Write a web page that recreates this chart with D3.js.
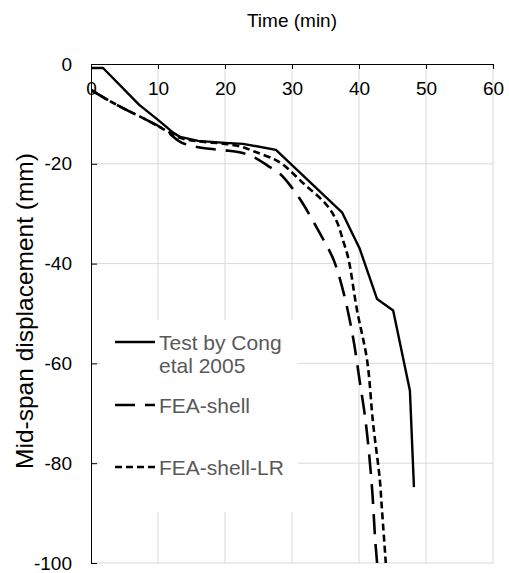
<!DOCTYPE html>
<html>
<head>
<meta charset="utf-8">
<script src="https://cdn.jsdelivr.net/npm/d3@7"></script>
<style>
  html, body { margin: 0; padding: 0; background: #fff; }
  svg { display: block; font-family: "Liberation Sans", Arial, sans-serif; }
</style>
</head>
<body>
<svg id="chart" width="509" height="573"></svg>
<script>
// Mid-span displacement vs fire exposure time
const xTicks = [0, 10, 20, 30, 40, 50, 60];
const yTicks = [0, -20, -40, -60, -80, -100];

// Test by Cong et al 2005
const timeTest = [0, 1.8, 7.2, 10, 12.3, 13.3, 16, 20, 22.7, 27.6, 37.5, 40.1, 42.7, 45.1, 47.6, 48.2];
const dispTest = [-0.8, -0.8, -8.2, -11.2, -13.8, -14.6, -15.4, -15.8, -16.0, -17.2, -29.8, -37.0, -47.1, -49.4, -65.5, -84.8];

// FEA-shell
const timeShell = [0, 2.5, 5, 8, 11, 13.3, 15, 17, 20, 22.5, 24.5, 26.5, 28.2, 30, 31.5, 33.9, 36.1, 37.6, 39.1, 40.1, 40.9, 41.5, 42, 42.4, 42.7];
const dispShell = [-5.2, -7.2, -9.0, -11.0, -13.2, -15.6, -16.4, -16.9, -17.3, -17.8, -18.8, -20.5, -22.0, -24.8, -27.7, -33.3, -38.9, -45.3, -54.7, -63.5, -70.7, -78.0, -86.0, -95.0, -100];

// FEA-shell-LR
const timeLR = [0, 2.5, 5, 8, 11, 13.3, 16, 20, 22.5, 24.5, 27.2, 28.7, 31.6, 35.2, 36.7, 37.6, 38.4, 39.7, 41.2, 42.1, 43.1, 43.4, 44];
const dispLR = [-5.2, -7.2, -9.0, -11.0, -13.2, -14.8, -15.5, -16.0, -16.6, -17.6, -19.0, -20.2, -23.8, -28.3, -31.6, -35.3, -38.9, -49.3, -59.3, -72.0, -83.2, -88.8, -100];

const svg = d3.select("#chart");
const pLeft = 91, pRight = 493, pTop = 64, pBottom = 563;

const x = d3.scaleLinear().domain([0, 60]).range([pLeft, pRight]);
const y = d3.scaleLinear().domain([0, -100]).range([pTop, pBottom]);

const grid = "#d9d9d9";
const plainNumber = d => String(d);

// vertical gridlines
svg.append("g").selectAll("line")
  .data(xTicks.filter(d => d > 0))
  .join("line")
  .attr("x1", d => x(d)).attr("x2", d => x(d))
  .attr("y1", pTop).attr("y2", pBottom)
  .attr("stroke", grid).attr("stroke-width", 1);

// horizontal gridlines
svg.append("g").selectAll("line")
  .data(yTicks.filter(d => d < 0))
  .join("line")
  .attr("x1", pLeft).attr("x2", pRight)
  .attr("y1", d => y(d)).attr("y2", d => y(d))
  .attr("stroke", grid).attr("stroke-width", 1);

// top axis with inward ticks
const xAxis = d3.axisBottom(x).tickValues(xTicks).tickSize(5).tickPadding(12).tickFormat(plainNumber);
const gx = svg.append("g").attr("transform", `translate(0,${pTop})`).call(xAxis);
gx.select(".domain").attr("stroke", "#000").attr("d", `M${pLeft},0.5H${pRight}`);
gx.selectAll(".tick line").attr("stroke", "#000");
gx.selectAll(".tick text").attr("fill", "#000").attr("font-size", 19).attr("dy", "0.72em");

// left axis with inward ticks
const yAxis = d3.axisLeft(y).tickValues(yTicks).tickSize(-6).tickPadding(19).tickFormat(plainNumber);
const gy = svg.append("g").attr("transform", `translate(${pLeft},0)`).call(yAxis);
gy.select(".domain").attr("stroke", "#000").attr("d", `M0.5,${pTop}V${pBottom}`);
gy.selectAll(".tick line").attr("stroke", "#000");
gy.selectAll(".tick text").attr("fill", "#000").attr("font-size", 19);

// axis titles
svg.append("text")
  .attr("x", 292).attr("y", 27)
  .attr("text-anchor", "middle")
  .attr("font-size", 19).attr("fill", "#000")
  .text("Time (min)");

svg.append("text")
  .attr("transform", `translate(33,311) rotate(-90)`)
  .attr("text-anchor", "middle")
  .attr("font-size", 24.5).attr("fill", "#000")
  .text("Mid-span displacement (mm)");

// clip for the curves
svg.append("clipPath").attr("id", "plotclip")
  .append("rect").attr("x", pLeft).attr("y", pTop - 2).attr("width", pRight - pLeft).attr("height", pBottom - pTop + 2);

const straight = d3.line().x(d => x(d[0])).y(d => y(d[1]));
const smooth = d3.line().x(d => x(d[0])).y(d => y(d[1])).curve(d3.curveCatmullRom.alpha(0.5));

const zip = (a, b) => a.map((v, i) => [v, b[i]]);

const styles = [
  { dash: null, width: 2.4 },
  { dash: "20,10", width: 2.6 },
  { dash: "7,4", width: 2.6 }
];

// legend box (drawn under the curves)
svg.append("rect")
  .attr("x", 100).attr("y", 320).attr("width", 198).attr("height", 192)
  .attr("fill", "#fff");

const plot = svg.append("g").attr("clip-path", "url(#plotclip)");

plot.append("path")
  .attr("d", straight(zip(timeTest, dispTest)))
  .attr("fill", "none").attr("stroke", "#000").attr("stroke-width", styles[0].width)
  .attr("stroke-linejoin", "round");

plot.append("path")
  .attr("d", smooth(zip(timeShell, dispShell)))
  .attr("fill", "none").attr("stroke", "#000").attr("stroke-width", styles[1].width)
  .attr("stroke-dasharray", styles[1].dash);

plot.append("path")
  .attr("d", smooth(zip(timeLR, dispLR)))
  .attr("fill", "none").attr("stroke", "#000").attr("stroke-width", styles[2].width)
  .attr("stroke-dasharray", styles[2].dash);

// legend entries
const legend = svg.append("g");
const legendRows = [
  { lineY: 342, lines: ["Test by Cong", "etal 2005"] },
  { lineY: 405, lines: ["FEA-shell"] },
  { lineY: 467, lines: ["FEA-shell-LR"] }
];

legendRows.forEach((row, i) => {
  legend.append("line")
    .attr("x1", 115).attr("x2", 155)
    .attr("y1", row.lineY).attr("y2", row.lineY)
    .attr("stroke", "#000").attr("stroke-width", styles[i].width)
    .attr("stroke-dasharray", styles[i].dash);
  const t = legend.append("text")
    .attr("x", 159).attr("y", row.lineY)
    .attr("font-size", 21).attr("fill", "#595959");
  row.lines.forEach((s, j) => {
    t.append("tspan").attr("x", 159).attr("dy", j === 0 ? "0.36em" : "1.1em").text(s);
  });
});
</script>
</body>
</html>
